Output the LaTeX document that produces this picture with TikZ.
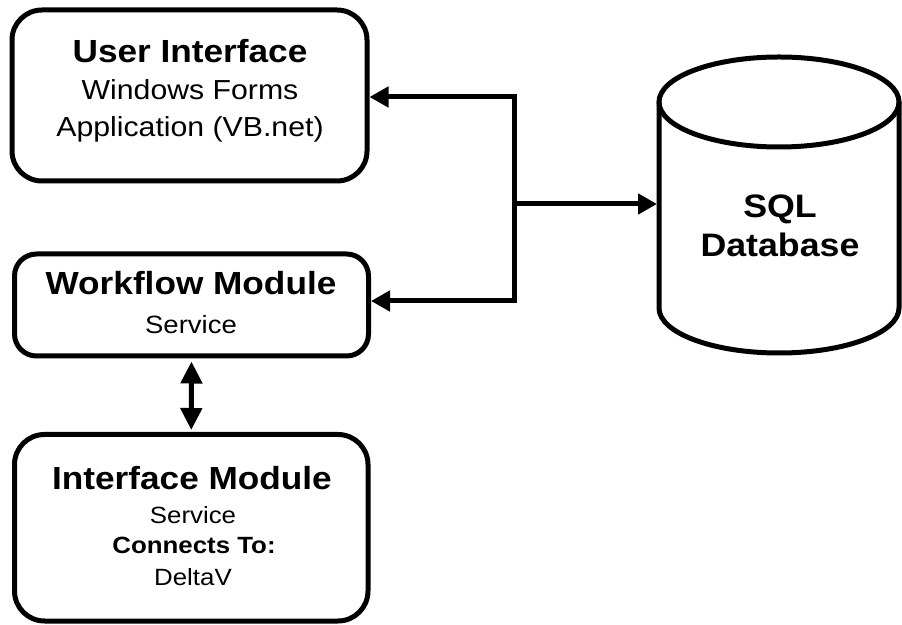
\documentclass[tikz,border=0pt]{standalone}
\usepackage{fontspec}
\setmainfont{Liberation Sans}[FakeStretch=1.1]
\usetikzlibrary{arrows.meta}
\begin{document}
\begin{tikzpicture}[x=1pt,y=1pt,
  box/.style={draw, line width=5pt, rounded corners=#1, inner sep=0pt},
  box/.default=30pt,
  ttl/.style={font=\fontsize{32}{32}\selectfont\bfseries, anchor=base, inner sep=0pt},
  sub/.style={font=\fontsize{27.5}{27.5}\selectfont, anchor=base, inner sep=0pt},
  midtxt/.style={font=\fontsize{25}{25}\selectfont, anchor=base, inner sep=0pt},
  smalltxt/.style={font=\fontsize{23.5}{23.5}\selectfont, anchor=base, inner sep=0pt},
  smallbold/.style={font=\fontsize{23.5}{23.5}\selectfont\bfseries, anchor=base, inner sep=0pt},
  dbtxt/.style={font=\fontsize{32.5}{32.5}\selectfont\bfseries, anchor=base, inner sep=0pt},
  conn/.style={line width=5pt},
]
\useasboundingbox (0,0) rectangle (902,624);
% boxes
\node[box, minimum width=355pt, minimum height=171pt] (ui) at (189.5,528.5) {};
\node[box=22pt, minimum width=354pt, minimum height=102pt] (wf) at (191.5,319) {};
\node[box, minimum width=353.5pt, minimum height=186.5pt] (im) at (191.25,96.25) {};
% texts
\node[ttl] (uit) at (190,561) {User Interface};
\node[sub] (uis1) at (190,524) {Windows Forms};
\node[sub] (uis2) at (190,487) {Application (VB.net)};
\node[ttl] (wft) at (191,329) {Workflow Module};
\node[midtxt] (wfs) at (191,290) {Service};
\node[ttl] (imt) at (192,134) {Interface Module};
\node[smalltxt] (ims) at (193,101) {Service};
\node[smallbold] (imc) at (194,71) {Connects To:};
\node[smalltxt] (imd) at (193,39) {DeltaV};
% database cylinder
\begin{scope}
\clip (0,0) rectangle (902,624);
\draw[line width=5pt] (779,522) ellipse [x radius=120, y radius=45];
\draw[line width=5pt] (659,522) -- (659,316) arc[start angle=180, end angle=360, x radius=120, y radius=45] -- (899,522);
\end{scope}
\node[dbtxt] (sql) at (780,406) {SQL};
\node[dbtxt] (dbn) at (780,367) {Database};
\coordinate (dbw) at (657,420);
% connectors
\coordinate (j1) at (514,527);
\coordinate (j2) at (514,323);
\coordinate (j3) at (514,420);
\draw[conn, {Triangle[length=19pt,width=20pt]}-{Triangle[length=19pt,width=20pt]}] (j1 -| ui.east) -- (j1) -- (j2) -- (j2 -| wf.east);
\draw[conn, -{Triangle[length=19pt,width=20pt]}] (j3) -- (dbw);
\draw[conn, {Triangle[length=22pt,width=21pt]}-{Triangle[length=22pt,width=21pt]}, shorten <=3pt, shorten >=2pt] (wf.south) -- (im.north);
\end{tikzpicture}
\end{document}
